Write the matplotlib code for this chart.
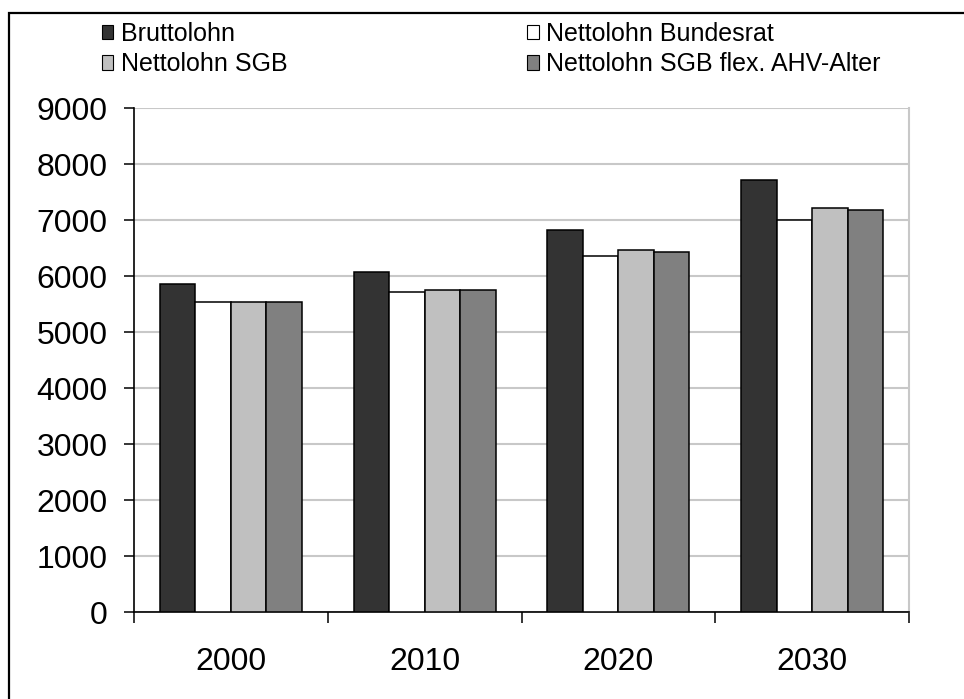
import numpy as np
import matplotlib
matplotlib.use("Agg")
import matplotlib.pyplot as plt
from matplotlib.patches import Rectangle, Patch

plt.rcParams['font.family'] = ['Liberation Sans', 'DejaVu Sans']

years = ['2000', '2010', '2020', '2030']
series_names = ['Bruttolohn', 'Nettolohn Bundesrat', 'Nettolohn SGB',
                'Nettolohn SGB flex. AHV-Alter']
brutto = [5860, 6070, 6820, 7715]
netto_br = [5540, 5715, 6355, 7000]
netto_sgb = [5540, 5745, 6465, 7215]
netto_flex = [5540, 5745, 6430, 7180]
colors = ['#333333', '#ffffff', '#c0c0c0', '#808080']

values = [brutto, netto_br, netto_sgb, netto_flex]

fig = plt.figure(figsize=(9.64, 6.99), dpi=100)
ax = fig.add_axes([134 / 964, 1 - 612 / 699, 775 / 964, 504 / 699])

x = np.arange(len(years))
bw = 0.183
handles = []
for i, (vals, col, name) in enumerate(zip(values, colors, series_names)):
    ax.bar(x + (i - 1.5) * bw, vals, bw, color=col, edgecolor='black',
           linewidth=1.1, zorder=3)
    handles.append(Patch(facecolor=col, edgecolor='black', linewidth=0.8,
                         label=name))

ax.set_xlim(-0.5, len(years) - 0.5)
ax.set_ylim(0, 9000)
ax.set_yticks(np.arange(0, 9001, 1000))
ax.grid(axis='y', color='#c8c8c8', linewidth=1.5, zorder=0)
ax.set_axisbelow(True)

# ticks between categories, labels centred
ax.set_xticks(np.arange(-0.5, len(years), 1))
ax.set_xticklabels([])
ax.set_xticks(x, minor=True)
ax.set_xticklabels(years, minor=True, fontsize=23)
ax.tick_params(axis='x', which='major', direction='out', length=8, width=1.1)
ax.tick_params(axis='x', which='minor', length=0, pad=25)
ax.tick_params(axis='y', direction='out', length=7, width=1.1, labelsize=23,
               pad=12)

for s in ['left', 'bottom']:
    ax.spines[s].set_linewidth(1.2)
    ax.spines[s].set_color('black')
ax.spines['right'].set_color('#c8c8c8')
ax.spines['right'].set_linewidth(1.5)
ax.spines['top'].set_visible(False)

order = [0, 2, 1, 3]
leg = fig.legend([handles[k] for k in order], [series_names[k] for k in order],
                 ncol=2, loc='upper left', bbox_to_anchor=(92 / 964, 1 - 12 / 699),
                 frameon=False, fontsize=18, handlelength=0.45, handleheight=0.5,
                 handletextpad=0.3, columnspacing=9.6, labelspacing=0.25,
                 borderaxespad=0)

# outer chart frame
fig.add_artist(Rectangle((9 / 964, -0.05), 1.2, 1 - 13 / 699 + 0.05,
                         transform=fig.transFigure, fill=False,
                         edgecolor='black', linewidth=1.6))

fig.savefig('out.png', dpi=100)
